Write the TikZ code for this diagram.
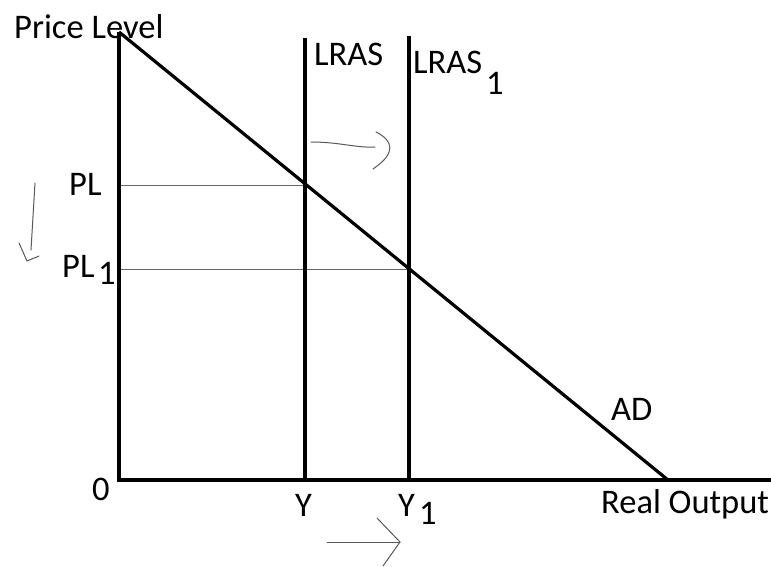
\documentclass[tikz,border=0pt]{standalone}
\usepackage{fontspec}
\setmainfont{Carlito}
\begin{document}
\begin{tikzpicture}[x=1pt,y=-1pt,
  axis/.style={line width=3.2pt, black},
  guide/.style={line width=0.9pt, black!60},
  hand/.style={line width=1pt, black!65, line cap=round, line join=round},
  lbl/.style={inner sep=0pt, anchor=base west, font=\fontsize{34.5}{40}\selectfont}]
\useasboundingbox (0,0) rectangle (771,566);
\coordinate (O) at (119,480);
\coordinate (Ytop) at (119,32);
\coordinate (Xend) at (771,480);
\coordinate (ADend) at (668,480);
\coordinate (L0top) at (305,38);
\coordinate (L0bot) at (305,480);
\coordinate (L1top) at (409,36);
\coordinate (L1bot) at (409,480);
\coordinate (PLy) at (119,185);
\coordinate (E0) at (305,185);
\coordinate (PL1y) at (119,269);
\coordinate (E1) at (409,269);
% guides
\draw[guide] (PLy) -- (E0);
\draw[guide] (PL1y) -- (E1);
% axes and curves
\draw[axis] (Xend) -- (O) -- (Ytop);
\draw[axis] (Ytop) -- (ADend);
\draw[axis] (L0top) -- (L0bot);
\draw[axis] (L1top) -- (L1bot);
% labels
\node[lbl] (pricelevel) at (14,38) {Price Level};
\node[lbl] (lras) at (314,65) {LRAS};
\node[lbl] (lras1) at (413,73) {LRAS};
\node[lbl] (lras1sub) at (486,94) {1};
\node[lbl] (pl) at (69,195) {PL};
\node[lbl] (pl1) at (62,277) {PL};
\node[lbl] (pl1sub) at (98,284) {1};
\node[lbl] (zero) at (92,500) {0};
\node[lbl] (y) at (295,516) {Y};
\node[lbl] (y1) at (398,516) {Y};
\node[lbl] (y1sub) at (419,524) {1};
\node[lbl] (ad) at (611,420) {AD};
\node[lbl] (realout) at (601,513) {Real Output};
% hand-drawn arrows
\coordinate (a1s) at (311,142);
\coordinate (a1e) at (375,147);
\draw[hand] (a1s) .. controls (340,142) and (355,148) .. (a1e);
\coordinate (a1h1) at (376,132);
\coordinate (a1h2) at (373,169);
\draw[hand] (a1h1) .. controls (392,140) and (398,152) .. (a1h2);
\coordinate (a2s) at (35,183);
\coordinate (a2e) at (31,250);
\draw[hand] (a2s) -- (a2e);
\coordinate (a2h1) at (19,243);
\coordinate (a2h2) at (27,261);
\coordinate (a2h3) at (39,256);
\draw[hand] (a2h1) -- (a2h2) -- (a2h3);
\coordinate (a3s) at (327,542);
\coordinate (a3e) at (400,542);
\coordinate (a3h1) at (377,518);
\coordinate (a3h2) at (383,566);
\draw[hand] (a3s) -- (a3e);
\draw[hand] (a3h1) -- (a3e) -- (a3h2);
\end{tikzpicture}
\end{document}
